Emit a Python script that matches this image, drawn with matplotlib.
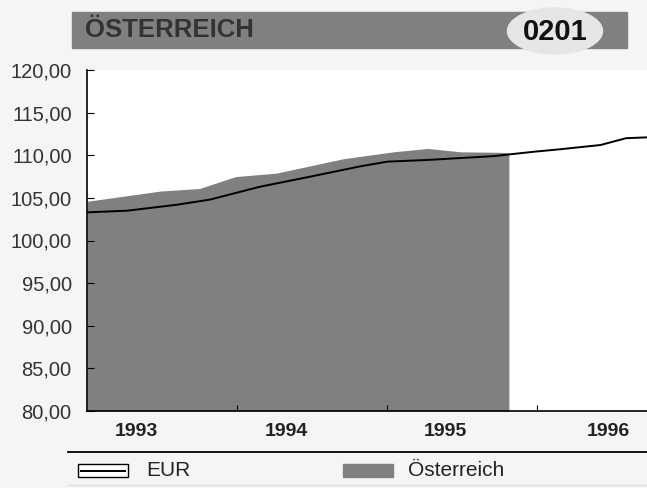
import matplotlib.pyplot as plt
from matplotlib.patches import Rectangle, Ellipse
from matplotlib.lines import Line2D

plt.rcParams['font.family'] = ['Liberation Sans', 'DejaVu Sans']

# EUR line (fractional years, index value)
eur_x = [1993.0, 1993.27, 1993.6, 1993.82, 1994.15, 1994.49, 1994.82, 1995.0,
         1995.27, 1995.71, 1995.97, 1996.15, 1996.42, 1996.59, 1996.73]
eur_y = [103.3, 103.5, 104.2, 104.8, 106.3, 107.5, 108.7, 109.25,
         109.45, 109.9, 110.4, 110.7, 111.2, 112.0, 112.1]

# Oesterreich area
at_x = [1993.0, 1993.49, 1993.75, 1993.99, 1994.26, 1994.71, 1995.04,
        1995.27, 1995.49, 1995.73, 1995.81]
at_y = [104.6, 105.8, 106.1, 107.5, 107.9, 109.6, 110.4,
        110.8, 110.4, 110.35, 110.3]

years = ["1993", "1994", "1995", "1996"]
label_pos = [1993.33, 1994.33, 1995.39, 1996.47]
yticks = [80, 85, 90, 95, 100, 105, 110, 115, 120]

gray = "#808080"
W, H = 647, 488

fig = plt.figure(figsize=(6.47, 4.88), dpi=100)
fig.patch.set_facecolor("#f5f5f5")
ax = fig.add_axes([87 / W, 1 - 411 / H, 560 / W, 341 / H])
ax.set_facecolor("white")

ax.fill_between(at_x, at_y, 80, color=gray, lw=0)
ax.plot(eur_x, eur_y, color="black", lw=1.4)

ax.set_xlim(1993.0, 1996.73)
ax.set_ylim(80, 120)
ax.set_yticks(yticks)
ax.set_yticklabels([f"{v:.2f}".replace(".", ",") for v in yticks],
                   fontsize=14.5, color="#333333")
ax.set_xticks([1994, 1995, 1996])
ax.set_xticklabels([])
ax.set_xticks(label_pos, minor=True)
ax.set_xticklabels(years, minor=True, fontsize=14, fontweight="bold", color="#222222")
ax.tick_params(axis="x", which="minor", length=0, pad=9)
ax.tick_params(axis="x", which="major", direction="in", length=4)
ax.tick_params(axis="y", direction="in", length=5, pad=11)
for s in ["top", "right"]:
    ax.spines[s].set_visible(False)
ax.spines["left"].set_linewidth(1.2)
ax.spines["bottom"].set_linewidth(1.2)

# title bar
fig.patches.append(Rectangle((72 / W, 1 - 48 / H), 555 / W, 36 / H,
                             transform=fig.transFigure, color=gray, zorder=1))
fig.patches.append(Ellipse((555 / W, 1 - 31 / H), 95 / W, 46 / H,
                           transform=fig.transFigure, color="#e6e6e6", zorder=2))
fig.text(85 / W, 1 - 30 / H, "ÖSTERREICH", fontsize=18.5, fontweight="bold",
         color="#333333", va="center", zorder=3)
fig.text(555 / W, 1 - 32 / H, "0201", fontsize=21, fontweight="bold",
         color="#111111", va="center", ha="center", zorder=3)

# legend
fig.add_artist(Line2D([68 / W, 1], [1 - 452 / H] * 2, color="black", lw=1.3))
fig.add_artist(Line2D([68 / W, 1], [1 - 485 / H] * 2, color="#dddddd", lw=1))
fig.patches.append(Rectangle((78 / W, 1 - 477 / H), 50 / W, 13 / H,
                             transform=fig.transFigure, facecolor="white",
                             edgecolor="black", lw=1))
fig.add_artist(Line2D([81 / W, 125 / W], [1 - 470.5 / H] * 2, color="black", lw=1.4))
fig.text(146 / W, 1 - 470 / H, "EUR", fontsize=15, color="#222222", va="center")
fig.patches.append(Rectangle((343 / W, 1 - 477 / H), 50 / W, 13 / H,
                             transform=fig.transFigure, color=gray))
fig.text(408 / W, 1 - 470 / H, "Österreich", fontsize=15, color="#222222", va="center")

fig.savefig("out.png", dpi=100, facecolor=fig.get_facecolor())
